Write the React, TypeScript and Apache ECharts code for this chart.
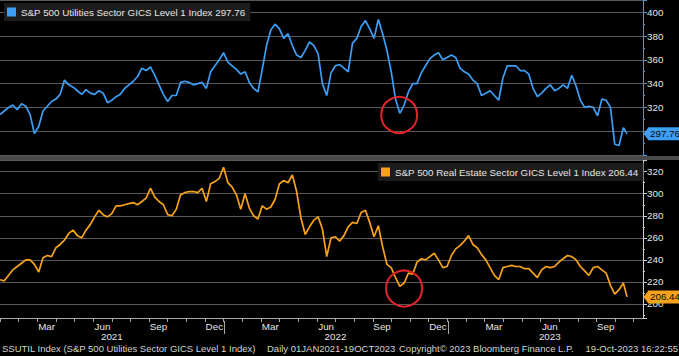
import React, { useEffect, useRef } from 'react';
import * as echarts from 'echarts';

const FONT = '"Liberation Sans", Arial, sans-serif';
const FS = 9.8;
const FS_FOOT = 9.5;
const BLUE = '#3d9ef5';
const ORANGE = '#f7a21b';
const GRID_LINE = '#585858';
const TEXT = '#e6e6e6';
const RED = '#e3242b';
const AXIS_GREY = '#a8a8a8';

const utilName = 'S&P 500 Utilities Sector GICS Level 1 Index';
const reName = 'S&P 500 Real Estate Sector GICS Level 1 Index';

const dates = [
  '2021-01-01','2021-01-08','2021-01-15','2021-01-22','2021-01-29','2021-02-05','2021-02-12','2021-02-19','2021-02-26','2021-03-05',
  '2021-03-12','2021-03-19','2021-03-26','2021-04-02','2021-04-09','2021-04-16','2021-04-23','2021-04-30','2021-05-07','2021-05-14',
  '2021-05-21','2021-05-28','2021-06-04','2021-06-11','2021-06-18','2021-06-25','2021-07-02','2021-07-09','2021-07-16','2021-07-23',
  '2021-07-30','2021-08-06','2021-08-13','2021-08-20','2021-08-27','2021-09-03','2021-09-10','2021-09-17','2021-09-24','2021-10-01',
  '2021-10-08','2021-10-15','2021-10-22','2021-10-29','2021-11-05','2021-11-12','2021-11-19','2021-11-26','2021-12-03','2021-12-10',
  '2021-12-17','2021-12-24','2021-12-31',
  '2022-01-07','2022-01-14','2022-01-21','2022-01-28','2022-02-04','2022-02-11','2022-02-18','2022-02-25','2022-03-04','2022-03-11',
  '2022-03-18','2022-03-25','2022-04-01','2022-04-08','2022-04-15','2022-04-22','2022-04-29','2022-05-06','2022-05-13','2022-05-20',
  '2022-05-27','2022-06-03','2022-06-10','2022-06-17','2022-06-24','2022-07-01','2022-07-08','2022-07-15','2022-07-22','2022-07-29',
  '2022-08-05','2022-08-12','2022-08-19','2022-08-26','2022-09-02','2022-09-09','2022-09-16','2022-09-23','2022-09-30','2022-10-07',
  '2022-10-14','2022-10-21','2022-10-28','2022-11-04','2022-11-11','2022-11-18','2022-11-25','2022-12-02','2022-12-09','2022-12-16',
  '2022-12-23','2022-12-30',
  '2023-01-06','2023-01-13','2023-01-20','2023-01-27','2023-02-03','2023-02-10','2023-02-17','2023-02-24','2023-03-03','2023-03-10',
  '2023-03-17','2023-03-24','2023-03-31','2023-04-07','2023-04-14','2023-04-21','2023-04-28','2023-05-05','2023-05-12','2023-05-19',
  '2023-05-26','2023-06-02','2023-06-09','2023-06-16','2023-06-23','2023-06-30','2023-07-07','2023-07-14','2023-07-21','2023-07-28',
  '2023-08-04','2023-08-11','2023-08-18','2023-08-25','2023-09-01','2023-09-08','2023-09-15','2023-09-22','2023-09-29','2023-10-06',
  '2023-10-13','2023-10-19'
];

const utilities = [
  314,317,320,322,318,323,321,314,298,304,
  317,321,325,327,331,343,339,337,334,331,
  335,332,331,334,332,324,326,329,331,336,
  339,342,346,353,351,354,347,339,331,325,
  330,330,341,342,341,339,340,341,336,350,
  355,360,366,358,355,352,348,350,341,336,
  333,352,372,385,390,386,378,382,372,364,
  362,368,375,372,365,340,330,349,355,356,
  353,350,374,378,388,393,386,378,394,382,
  368,350,327,315,322,333,340,340,349,355,
  361,364,366,360,362,364,362,353,350,348,
  343,340,330,332,334,330,326,345,355,355,
  355,351,351,348,336,329,332,336,339,334,
  336,339,336,347,338,326,320,321,320,313,
  327,326,320,289,288,303,297.76
];

const realEstate = [
  222,221,226,231,234,237,240,240,236,229,
  242,244,243,251,254,258,264,267,262,260,
  267,272,279,285,281,279,282,289,289,290,
  291,292,290,293,296,305,297,293,290,281,
  280,286,299,301,302,302,301,305,293,309,
  311,314,324,310,306,299,286,300,287,280,
  277,289,286,288,295,309,312,310,317,302,
  278,263,270,276,279,268,243,260,261,257,
  262,270,274,273,283,285,274,261,271,252,
  236,233,224,216,219,228,227,238,241,240,
  243,246,240,233,234,244,250,253,257,262,
  254,251,245,240,233,226,222,233,234,235,
  234,234,232,232,228,224,231,234,233,234,
  238,241,244,243,240,234,230,226,233,234,
  231,228,217,209,213,219,206.44
];

// annotation circles (date, value)
const utilCircle = ['2022-10-13', 313.6];
const reCircle = ['2022-10-21', 214];

const monthNames = ['Jan','Feb','Mar','Apr','May','Jun','Jul','Aug','Sep','Oct','Nov','Dec'];
const shownMonths = ['Mar','Jun','Sep','Dec'];
const years = [2021, 2022, 2023];
const yearSlots: Record<string, string> = { '2021-6-a': '2021', '2022-6-a': '2022', '2023-5-b': '2023' };
const yearBreaks = ['2022-01-01', '2023-01-01'];
const axisStart = '2021-01-01';
const axisEnd = '2023-11-14';

const footer = [
  { text: 'SSUTIL Index (S&P 500 Utilities Sector GICS Level 1 Index)', x: 2, align: 'left' },
  { text: 'Daily 01JAN2021-19OCT2023', x: 267, align: 'left' },
  { text: 'Copyright\u00a9 2023 Bloomberg Finance L.P.', x: 399, align: 'left' },
  { text: '19-Oct-2023 16:22:55', x: 678, align: 'right' },
];

const halfMonths: string[] = [];
for (const y of years) {
  for (let m = 0; m < 12; m++) {
    for (const h of ['a', 'b']) {
      if (halfMonths.length < 70) halfMonths.push(`${y}-${m}-${h}`);
    }
  }
}

const lastU = utilities[utilities.length - 1];
const lastR = realEstate[realEstate.length - 1];

export default function App() {
  const ref = useRef<HTMLDivElement>(null);
  useEffect(() => {
    if (!ref.current) return;
    const chart = echarts.init(ref.current, null, { renderer: 'svg' });
    const hiddenTime = (gi: number) => ({
      type: 'time', gridIndex: gi, min: axisStart, max: axisEnd,
      axisLine: { show: false }, axisTick: { show: false }, axisLabel: { show: false }, splitLine: { show: false },
    });
    const valueAxis = (gi: number, min: number, max: number, split: number, lineColor: string, lo: number, hi: number) => ({
      type: 'value', gridIndex: gi, position: 'right', min, max, splitNumber: split,
      axisLine: { show: true, lineStyle: { color: lineColor, width: 1 } },
      axisTick: { show: true, length: 4, lineStyle: { color: lineColor } },
      minorTick: { show: true, splitNumber: 2, length: 2, lineStyle: { color: lineColor } },
      minorSplitLine: { show: false },
      axisLabel: {
        color: TEXT, fontSize: FS, fontFamily: FONT, margin: 4, showMinLabel: false, showMaxLabel: false,
        formatter: (v: number) => (Math.abs(v % 20) < 1e-6 && v >= lo && v <= hi ? String(v) : ''),
      },
      splitLine: { show: true, lineStyle: { color: GRID_LINE, width: 1 } },
    });
    const tag = (val: number, color: string) => ({
      symbol: ['none', 'none'], silent: true, animation: false,
      lineStyle: { color: 'rgba(0,0,0,0)', width: 0, opacity: 1 },
      label: {
        show: true, position: 'end', formatter: val.toFixed(2), backgroundColor: color, color: '#0a0a0a',
        opacity: 1, fontSize: FS, fontFamily: FONT, padding: [2, 1, 1, 2], distance: 5,
      },
      data: [{ yAxis: val }],
    });
    const circle = (coord: any[]) => ({
      silent: true, animation: false,
      label: { show: false },
      data: [
        {
          coord, symbol: 'circle', symbolSize: 36,
          itemStyle: { color: 'rgba(0,0,0,0)', borderColor: RED, borderWidth: 2 },
        },
      ],
    });
    // small pointer drawn through the axis scales (custom series)
    const pointer = (xi: number, yi: number, val: number, color: string) => ({
      type: 'custom', name: 'pointer' + xi, xAxisIndex: xi, yAxisIndex: yi, silent: true, clip: false, z: 5,
      data: [[axisEnd, val]],
      renderItem: (params: any, api: any) => {
        const p = api.coord([api.value(0), api.value(1)]);
        return {
          type: 'polygon',
          shape: { points: [[p[0] + 0.5, p[1]], [p[0] + 5.5, p[1] - 6.5], [p[0] + 5.5, p[1] + 6.5]] },
          style: { fill: color },
        };
      },
    });
    const legendBase = {
      icon: 'rect', itemWidth: 9, itemHeight: 9, itemGap: 4, selectedMode: false,
      backgroundColor: '#1c1c1c', padding: [4, 5, 4, 3],
      textStyle: { color: TEXT, fontSize: FS, fontFamily: FONT },
    };
    chart.setOption({
      animation: false,
      backgroundColor: '#000',
      grid: [
        { left: -2, right: 36, top: 0, height: 155 },
        { left: -2, right: 36, top: 160, height: 158 },
      ],
      xAxis: [
        hiddenTime(0),
        hiddenTime(1),
        {
          type: 'category', gridIndex: 1, data: halfMonths, boundaryGap: false, position: 'bottom',
          axisLine: { show: true, onZero: false, lineStyle: { color: AXIS_GREY } },
          axisTick: { show: true, length: 4, interval: 1, lineStyle: { color: AXIS_GREY } },
          axisLabel: {
            color: TEXT, fontSize: FS, fontFamily: FONT, margin: 3,
            interval: (i: number, v: string) => i % 2 === 1 && shownMonths.includes(monthNames[+v.split('-')[1]]),
            formatter: (v: string) => monthNames[+v.split('-')[1]],
          },
          splitLine: { show: false },
        },
        {
          type: 'category', gridIndex: 1, data: halfMonths, boundaryGap: false, position: 'bottom', offset: 3,
          axisLine: { show: false, onZero: false },
          axisTick: { show: false },
          axisLabel: {
            color: TEXT, fontSize: FS, fontFamily: FONT, margin: 10,
            interval: (i: number, v: string) => v in yearSlots,
            formatter: (v: string) => yearSlots[v] || '',
          },
          splitLine: { show: false },
        },
      ],
      yAxis: [
        valueAxis(0, 280, 410.3, 6, BLUE, 320, 400),
        valueAxis(1, 187.3, 330.6, 7, '#cfcfcf', 200, 320),
      ],
      legend: [
        { ...legendBase, data: [utilName], left: 4, top: 3, formatter: (n: string) => `${n} ${lastU.toFixed(2)}` },
        { ...legendBase, data: [reName], left: 378, top: 163, formatter: (n: string) => `${n} ${lastR.toFixed(2)}` },
      ],
      series: [
        {
          type: 'line', name: utilName, xAxisIndex: 0, yAxisIndex: 0,
          data: dates.map((d, i) => [d, utilities[i]]),
          showSymbol: false, symbol: 'none', lineStyle: { color: BLUE, width: 1.7 }, itemStyle: { color: BLUE },
          markPoint: circle(utilCircle), markLine: tag(lastU, BLUE),
        },
        {
          type: 'line', name: reName, xAxisIndex: 1, yAxisIndex: 1,
          data: dates.map((d, i) => [d, realEstate[i]]),
          showSymbol: false, symbol: 'none', lineStyle: { color: ORANGE, width: 1.7 }, itemStyle: { color: ORANGE },
          markPoint: circle(reCircle), markLine: tag(lastR, ORANGE),
        },
        pointer(0, 0, lastU, BLUE),
        pointer(1, 1, lastR, ORANGE),
        {
          type: 'custom', name: 'year breaks', xAxisIndex: 1, yAxisIndex: 1, silent: true, clip: false, z: 5,
          data: yearBreaks.map((d) => [d, 200]),
          renderItem: (params: any, api: any) => {
            const p = api.coord([api.value(0), api.value(1)]);
            const x = Math.round(p[0]) + 0.5;
            return {
              type: 'line',
              shape: { x1: x, y1: 321, x2: x, y2: 334 },
              style: { stroke: AXIS_GREY, lineWidth: 1 },
            };
          },
        },
      ],
      graphic: [
        { type: 'rect', shape: { x: 0, y: 156, width: 679, height: 4 }, style: { fill: '#4a4a4a' }, z: 10 },
        ...footer.map((f) => ({
          type: 'text', z: 10,
          style: { text: f.text, x: f.x, y: 348, fill: '#d4d4d4', font: `${FS_FOOT}px ${FONT}`, verticalAlign: 'middle', align: f.align },
        })),
      ],
    });
    return () => chart.dispose();
  }, []);
  return (
    <div
      ref={ref}
      style={{ position: 'fixed', left: 0, top: 0, width: 679, height: 356, background: '#000' }}
    />
  );
}
